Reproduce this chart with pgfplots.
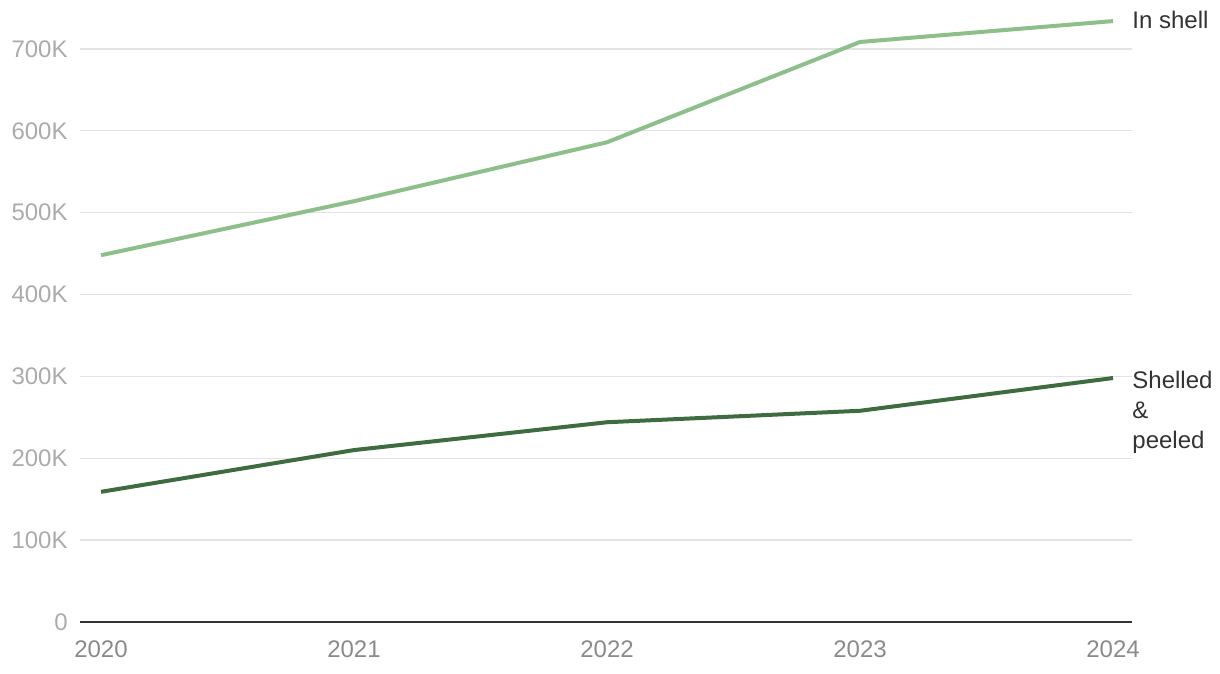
\documentclass[border=0pt]{standalone}
\usepackage{fontspec}
\setmainfont{Liberation Sans}
\usepackage{pgfplots}
\pgfplotsset{compat=1.18}
\definecolor{lightg}{HTML}{8DBF8B}
\definecolor{darkg}{HTML}{3E6B40}
\definecolor{ytk}{HTML}{ABABAB}
\definecolor{xtk}{HTML}{8A8A8A}
\definecolor{lbl}{HTML}{333333}
\definecolor{grd}{HTML}{E3E3E3}
\begin{document}
\begin{tikzpicture}[x=1pt,y=1pt]
\path[use as bounding box] (-40,-26) rectangle (570,311);
\begin{axis}[
  at={(0,0)}, anchor=south west,
  scale only axis, width=526pt, height=307pt,
  xmin=2019.917, xmax=2024.075, ymin=0, ymax=750000,
  axis x line=bottom, axis y line=left,
  y axis line style={draw=none},
  x axis line style={draw=lbl, line width=1pt, -},
  major tick length=0pt, tick style={draw=none},
  xtick={2020,2021,2022,2023,2024},
  xticklabels={2020,2021,2022,2023,2024},
  ytick={0,100000,200000,300000,400000,500000,600000,700000},
  yticklabels={0,100K,200K,300K,400K,500K,600K,700K},
  scaled y ticks=false,
  yticklabel style={inner sep=0pt, xshift=-6pt, text=ytk, font=\fontsize{12}{14}\selectfont},
  xticklabel style={inner sep=0pt, yshift=-9pt, text=xtk, font=\fontsize{12}{14}\selectfont},
  ymajorgrids, grid style={draw=grd, line width=0.7pt},
  clip=false,
]
\addplot[lightg, line width=2pt] coordinates {(2020,448000) (2021,514000) (2022,586000) (2023,708500) (2024,734000)};
\addplot[darkg, line width=2pt] coordinates {(2020,159000) (2021,210000) (2022,244000) (2023,258000) (2024,298000)};
\node[anchor=west, inner sep=0pt, text=lbl, font=\fontsize{12}{15}\selectfont] at (axis cs:2024.075,735000) {In shell};
\node[anchor=north west, inner sep=0pt, text=lbl, font=\fontsize{12}{15}\selectfont, align=left] at (axis cs:2024.075,307500) {Shelled\\\&\\peeled};
\end{axis}
\end{tikzpicture}
\end{document}
